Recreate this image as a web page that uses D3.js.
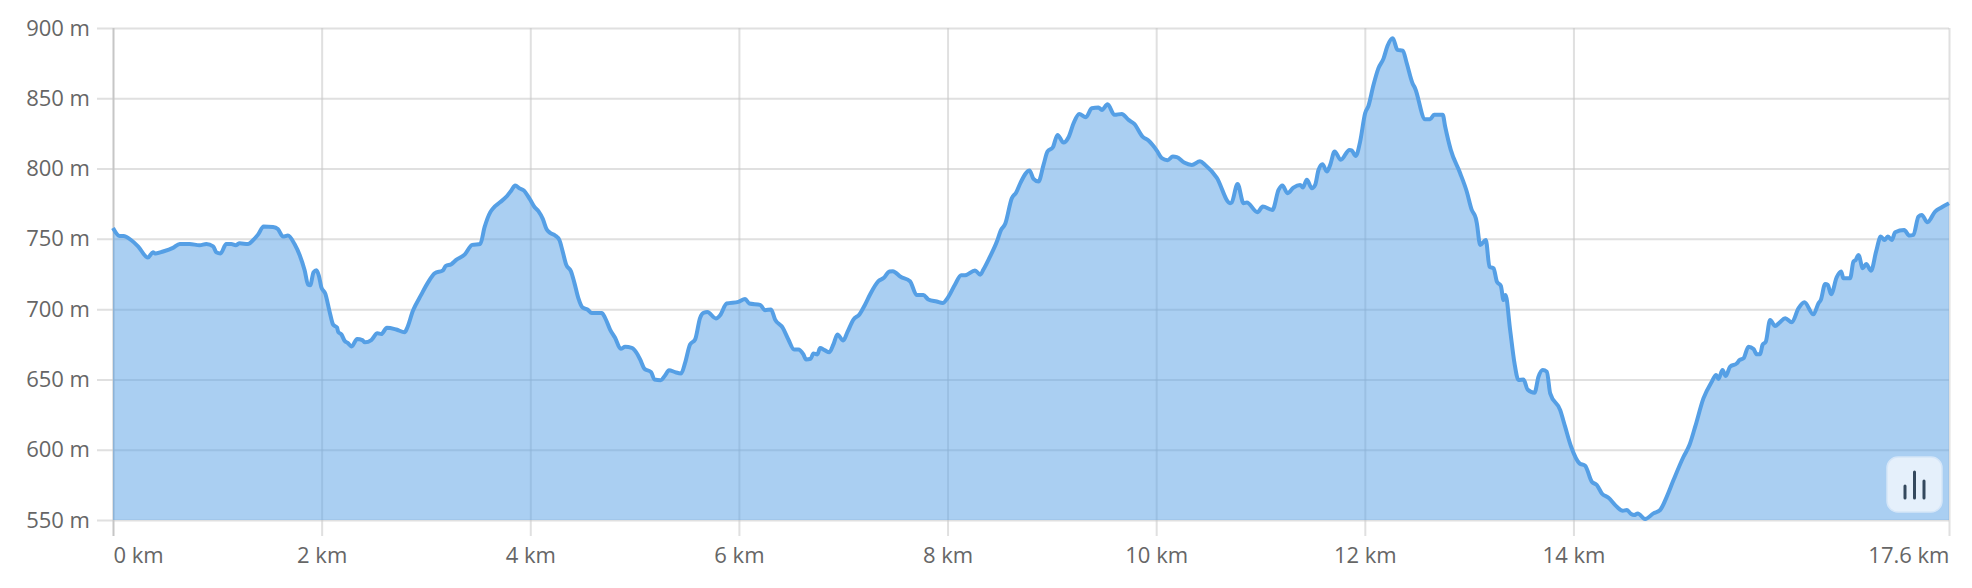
<!DOCTYPE html>
<html>
<head>
<meta charset="utf-8">
<script src="https://cdn.jsdelivr.net/npm/d3@7"></script>
<style>
  html, body { margin: 0; padding: 0; background: #fff; }
  svg { display: block; font-family: "Open Sans", sans-serif; }
</style>
</head>
<body>
<div class="container"></div>
<script>
// elevation profile
const distKm = [0,0.064,0.1,0.176,0.24,0.335,0.383,0.41,0.48,0.575,0.64,0.735,0.83,0.895,0.96,0.99,1.03,1.086,1.134,1.176,1.214,1.294,1.342,1.39,1.444,1.534,1.58,1.63,1.677,1.74,1.79,1.837,1.87,1.89,1.923,1.95,1.974,1.997,2.035,2.077,2.11,2.147,2.16,2.19,2.22,2.25,2.288,2.34,2.39,2.415,2.476,2.534,2.572,2.626,2.716,2.796,2.818,2.875,2.955,3.02,3.083,3.163,3.19,3.243,3.29,3.37,3.444,3.52,3.562,3.617,3.647,3.71,3.775,3.82,3.855,3.9,3.935,3.998,4.04,4.078,4.12,4.158,4.19,4.238,4.28,4.31,4.344,4.39,4.423,4.46,4.503,4.548,4.59,4.685,4.717,4.765,4.813,4.867,4.909,4.973,5.014,5.053,5.094,5.158,5.19,5.25,5.292,5.33,5.388,5.446,5.484,5.532,5.58,5.628,5.66,5.698,5.78,5.82,5.883,5.995,6.059,6.1,6.203,6.25,6.308,6.347,6.42,6.474,6.529,6.57,6.618,6.644,6.688,6.714,6.752,6.778,6.82,6.867,6.906,6.944,7,7.04,7.098,7.155,7.21,7.257,7.337,7.39,7.443,7.475,7.55,7.64,7.704,7.768,7.816,7.896,7.954,7.998,8.072,8.13,8.168,8.263,8.313,8.344,8.4,8.473,8.51,8.553,8.616,8.658,8.7,8.786,8.824,8.872,8.92,8.958,9.01,9.054,9.112,9.16,9.208,9.262,9.326,9.383,9.447,9.48,9.534,9.6,9.67,9.735,9.79,9.869,9.926,10.006,10.054,10.109,10.16,10.198,10.268,10.342,10.42,10.47,10.58,10.709,10.725,10.78,10.837,10.869,10.971,11.022,11.115,11.173,11.21,11.258,11.316,11.38,11.406,11.444,11.492,11.524,11.556,11.594,11.636,11.668,11.71,11.77,11.853,11.875,11.914,11.955,12.003,12.035,12.083,12.13,12.18,12.217,12.268,12.313,12.364,12.402,12.457,12.482,12.578,12.626,12.664,12.747,12.77,12.824,12.914,12.977,13.025,13.064,13.074,13.106,13.16,13.195,13.234,13.266,13.304,13.33,13.349,13.393,13.435,13.473,13.521,13.56,13.627,13.665,13.706,13.745,13.777,13.873,13.92,13.978,14.058,14.112,14.176,14.224,14.272,14.336,14.416,14.473,14.512,14.553,14.582,14.617,14.687,14.767,14.831,14.895,14.959,15.055,15.112,15.167,15.246,15.326,15.368,15.39,15.429,15.46,15.502,15.566,15.592,15.63,15.678,15.726,15.758,15.79,15.812,15.844,15.885,15.933,15.975,16.03,16.093,16.157,16.214,16.3,16.349,16.371,16.413,16.438,16.47,16.524,16.566,16.588,16.652,16.684,16.706,16.732,16.774,16.806,16.853,16.901,16.946,16.981,17.013,17.052,17.084,17.17,17.221,17.259,17.307,17.339,17.393,17.467,17.531,17.6];
const elevM = [757.7,752,752,749,744.7,736.7,740.4,739.6,741,743.6,746.3,746.3,745.5,746.3,744.7,740.4,739.6,746.3,746.3,745.5,746.8,746.3,749,753,758.8,758.5,757,751.6,752.4,746.3,738.3,727.6,717.5,717,726.3,727.6,723.6,715.6,711,698,689,687,683.6,682,677.5,676,673.5,678.8,678,676.4,678,682.8,682.3,686.8,685.5,683.6,686.3,698.8,710.3,719,725.5,727.6,730.8,732,735,738.8,745.7,746.3,758.3,769,772,776,780.3,784.6,787.9,785.8,784.6,778,772.7,769.7,764.2,756.6,754.3,752.4,749,741.2,731.7,727,718.7,708,701,699.8,697.2,697.2,693.8,685.5,679.6,671.8,673.2,672.5,669.4,664.2,657.6,655.2,650,649.5,652.8,656.6,655.2,654.3,661.8,674.9,678.4,693.8,697.4,697.9,693.4,695.7,704,705.2,707.3,704,703,699.3,699.8,692.6,686.7,678.4,671.3,671.3,667.8,664.2,664.7,668.5,667.8,672.3,670.9,669.4,674.9,682,677.7,683.6,692.6,696.2,703.3,710.4,719.9,722.3,726.8,727,723,719.9,710,710,706.9,705.4,704.3,707.6,717.5,724.2,724.2,727.5,724.5,728.2,736.3,748.1,755.9,760.7,778.9,783,790,798.6,792.7,790.8,802.6,812.1,815.2,823.9,818.5,822.3,832.2,838.9,836.5,842.9,843.4,841.7,845.7,838.2,838.9,834.6,831.8,822.8,819.9,812.8,807.4,806,808.5,808.1,804.3,802.6,805.2,802.6,793.6,775.4,776,789.1,775.4,775.8,769,773,770.6,784.8,788,782.5,786.5,788.4,786.5,792,786,788.4,799,803.1,797.9,802.6,812.1,806.2,813.3,812.8,809,819.2,839.3,844.6,859.5,871.3,878.4,887.2,892.7,884.4,883.9,874.9,860.7,857.1,835.1,835.1,838.2,838.2,829.9,813.3,796.7,783.7,770.6,764.7,761,745.7,749.2,730.2,729,719.6,716.5,706.5,710.1,685.2,661.4,649.6,650,642.9,640.6,651.9,656.7,655.5,640.1,628.2,616.4,602.1,590.3,588.6,577.2,574.9,568.9,565.8,559.4,556.6,557.1,554.2,553.5,554.7,550.7,554.7,557.1,566.6,578.4,595,603.3,616.4,636.5,648.4,653.2,650.3,656.7,652.4,659.1,661.4,663.8,665,673.3,671.6,667.9,667.9,674.5,676.9,692.3,688,690.4,693.5,690.6,700.6,704.9,696.3,704.2,706.5,717.9,717.2,710.6,722.7,726.7,721.9,721.9,733.8,735,738.6,729.1,732.1,727.4,740.9,751.6,749.2,751.6,749.2,754.7,756.3,752.3,752.8,765.8,767,761.8,769.4,772.5,775.3];
const xTicks = [0,2,4,6,8,10,12,14,17.6];
const yTicks = [550,600,650,700,750,800,850,900];

const width = 1972;
const height = 588;
const margin = { top: 28, right: 23, bottom: 68, left: 113 };

const svg = d3.select(".container")
  .append("svg")
  .attr("width", width)
  .attr("height", height);

const xScale = d3.scaleLinear()
  .domain([0, 17.6])
  .range([margin.left, width - margin.right]);

const yScale = d3.scaleLinear()
  .domain([550, 900])
  .range([height - margin.bottom, margin.top]);

// grid first, the half transparent fill goes over it
const yAxis = svg.append("g")
  .attr("transform", `translate(${margin.left}, 0)`)
  .call(d3.axisLeft(yScale)
    .tickValues(yTicks)
    .tickSize(16)
    .tickFormat(d => d + " m"));
yAxis.select(".domain").remove();
yAxis.selectAll(".tick line")
  .attr("x2", width - margin.right - margin.left)
  .attr("x1", -16)
  .attr("stroke", "#c6c6c6")
  .attr("stroke-opacity", 0.55)
  .attr("stroke-width", 2);
yAxis.selectAll("text")
  .attr("x", -23)
  .attr("fill", "#666")
  .attr("font-size", 22)
  .attr("font-family", "'Open Sans', sans-serif");

const xAxis = svg.append("g")
  .attr("transform", `translate(0, ${height - margin.bottom})`)
  .call(d3.axisBottom(xScale)
    .tickValues(xTicks)
    .tickSize(16)
    .tickFormat(d => d + " km"));
xAxis.select(".domain").remove();
xAxis.selectAll(".tick line")
  .attr("y1", -(height - margin.bottom - margin.top))
  .attr("y2", 16)
  .attr("stroke", "#c6c6c6")
  .attr("stroke-opacity", d => d === 0 ? 1 : 0.55)
  .attr("stroke-width", 2);
xAxis.selectAll("text")
  .attr("y", 27.4)
  .attr("dy", "0.71em")
  .attr("fill", "#666")
  .attr("font-size", 22)
  .attr("font-family", "'Open Sans', sans-serif")
  .attr("text-anchor", d => d === 0 ? "start" : d === 17.6 ? "end" : "middle");

// the profile itself
const profile = d3.range(distKm.length);

const area = d3.area()
  .x(i => xScale(distKm[i]))
  .y0(yScale(550))
  .y1(i => yScale(elevM[i]))
  .curve(d3.curveMonotoneX);

const line = d3.line()
  .x(i => xScale(distKm[i]))
  .y(i => yScale(elevM[i]))
  .curve(d3.curveMonotoneX);

svg.append("path")
  .datum(profile)
  .attr("fill", "#559fe5")
  .attr("fill-opacity", 0.5)
  .attr("d", area);

svg.append("path")
  .datum(profile)
  .attr("fill", "none")
  .attr("stroke", "#559fe5")
  .attr("stroke-width", 4)
  .attr("stroke-linejoin", "round")
  .attr("d", line);

// little chart button in the corner
const button = svg.append("g")
  .attr("transform", `translate(${width - margin.right - 62}, ${height - margin.bottom - 63})`);

button.append("rect")
  .attr("width", 55)
  .attr("height", 55)
  .attr("rx", 11)
  .attr("fill", "#e5f0fb")
  .attr("stroke", "#d5e6f8")
  .attr("stroke-width", 1.5);

button.selectAll("line")
  .data([12, 26, 17])
  .join("line")
  .attr("x1", (d, i) => 18 + i * 9.5)
  .attr("x2", (d, i) => 18 + i * 9.5)
  .attr("y1", d => 41 - d)
  .attr("y2", 41)
  .attr("stroke", "#34495e")
  .attr("stroke-width", 3)
  .attr("stroke-linecap", "round");
</script>
</body>
</html>
